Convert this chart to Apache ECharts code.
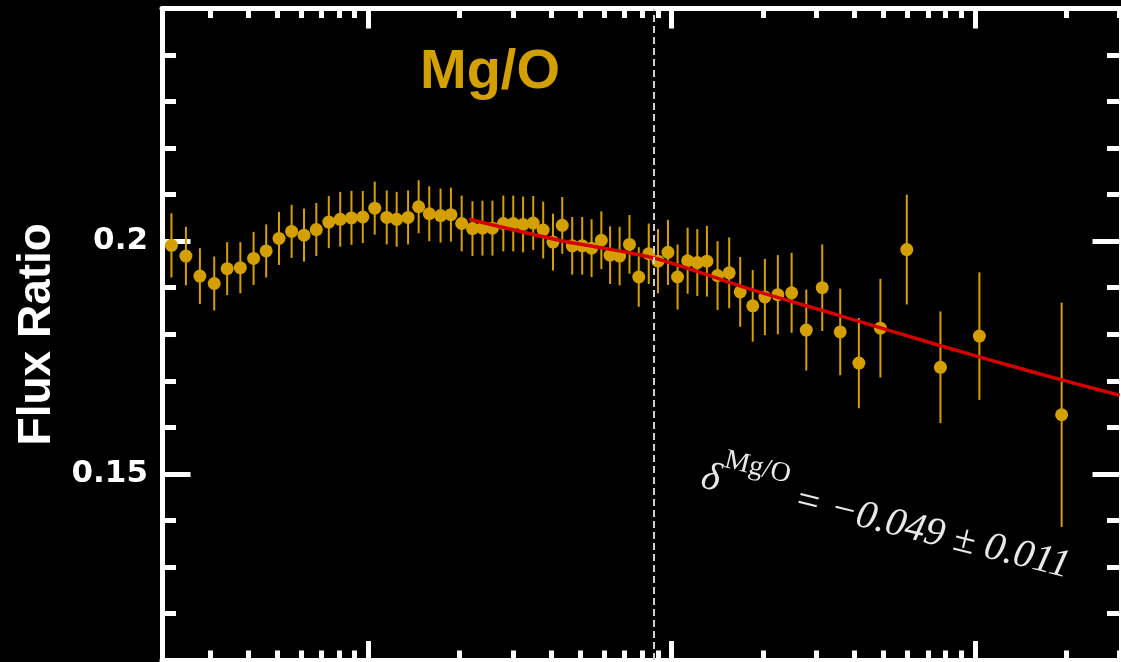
<!DOCTYPE html>
<html>
<head>
<meta charset="utf-8">
<style>
  html, body { margin: 0; padding: 0; background: #000; }
  #chart { width: 1121px; height: 662px; }
</style>
<script src="https://cdn.jsdelivr.net/npm/echarts@6/dist/echarts.min.js"></script>
</head>
<body>
<div id="chart"></div>
<script>
// Binned Mg/O flux ratio with 1-sigma uncertainties
const xVals = [0.224, 0.250, 0.278, 0.310, 0.342, 0.378, 0.418, 0.460, 0.507, 0.558,
  0.613, 0.673, 0.740, 0.807, 0.879, 0.958, 1.049, 1.149, 1.239, 1.351,
  1.464, 1.587, 1.729, 1.871, 2.030, 2.203, 2.377, 2.564, 2.785, 3.003,
  3.236, 3.495, 3.770, 4.061, 4.357, 4.699, 5.069, 5.444, 5.863, 6.266,
  6.736, 7.259, 7.789, 8.403, 9.015, 9.723, 10.46, 11.29, 12.15, 13.07,
  14.17, 15.48, 16.83, 18.51, 20.30, 22.40, 24.87, 27.80, 31.38, 35.97,
  41.44, 48.81, 59.63, 77.00, 103.5, 193.3];
const ratio = [0.1991, 0.1968, 0.1925, 0.1909, 0.1941, 0.1943, 0.1963, 0.1979, 0.2006, 0.2021,
  0.2013, 0.2025, 0.2041, 0.2047, 0.2050, 0.2052, 0.2071, 0.2051, 0.2047, 0.2051,
  0.2074, 0.2059, 0.2055, 0.2057, 0.2038, 0.2027, 0.2028, 0.2028, 0.2038, 0.2038,
  0.2036, 0.2039, 0.2024, 0.1998, 0.2034, 0.1990, 0.1990, 0.1985, 0.2002, 0.1970,
  0.1968, 0.1993, 0.1923, 0.1973, 0.1957, 0.1976, 0.1923, 0.1958, 0.1954, 0.1957,
  0.1926, 0.1932, 0.1891, 0.1861, 0.1880, 0.1885, 0.1889, 0.1809, 0.1900, 0.1805,
  0.1738, 0.1813, 0.1982, 0.1729, 0.1796, 0.1627];
const ratioErr = [0.0069, 0.0063, 0.0060, 0.0058, 0.0057, 0.0055, 0.0057, 0.0057, 0.0057, 0.0057,
  0.0057, 0.0057, 0.0056, 0.0059, 0.0058, 0.0056, 0.0057, 0.0058, 0.0059, 0.0058,
  0.0057, 0.0059, 0.0058, 0.0058, 0.0060, 0.0059, 0.0059, 0.0059, 0.0060, 0.0060,
  0.0060, 0.0058, 0.0061, 0.0061, 0.0061, 0.0062, 0.0062, 0.0062, 0.0062, 0.0062,
  0.0063, 0.0063, 0.0064, 0.0065, 0.0069, 0.0070, 0.0070, 0.0071, 0.0072, 0.0076,
  0.0074, 0.0076, 0.0075, 0.0077, 0.0082, 0.0085, 0.0086, 0.0087, 0.0093, 0.0093,
  0.0097, 0.0106, 0.0118, 0.0120, 0.0137, 0.0241];

// Power-law fit over the upper range
const fitX = [2.15, 4.25, 8.73, 17.9, 35.4, 75.6, 149, 300];
const fitY = [0.2047, 0.2002, 0.1964, 0.1898, 0.1841, 0.1777, 0.1722, 0.1669];

// Vertical reference cut
const cutX = 8.75;

// Axis ranges and ticks
const xRange = [0.2085, 303.4];
const yRange = [0.11, 0.25];
const xMajorTicks = [1, 10, 100];
const xMinorTicks = [0.3, 0.4, 0.5, 0.6, 0.7, 0.8, 0.9, 2, 3, 4, 5, 6, 7, 8, 9,
  20, 30, 40, 50, 60, 70, 80, 90, 200, 300];
const yMajorTicks = [0.15, 0.2, 0.25];
const yMinorTicks = [0.11, 0.12, 0.13, 0.14, 0.16, 0.17, 0.18, 0.19, 0.21, 0.22, 0.23, 0.24];
const yTickLabels = [0.15, 0.2];

const GOLD = '#d4a000';
const WHITE = '#ffffff';

const points = xVals.map((x, i) => [x, ratio[i], ratioErr[i]]);
const fitLine = fitX.map((x, i) => [x, fitY[i]]);

function xAxisDef(pos, ticks, len, showLine) {
  return {
    type: 'log', logBase: 10, position: pos, min: xRange[0], max: xRange[1],
    axisLine: { show: showLine, onZero: false, lineStyle: { color: WHITE, width: 5 } },
    axisTick: { show: true, inside: true, length: len, customValues: ticks,
      lineStyle: { color: WHITE, width: 5 } },
    axisLabel: { show: false },
    splitLine: { show: false }, minorTick: { show: false }
  };
}
function yAxisDef(pos, ticks, len, showLine, labels, name) {
  return {
    type: 'value', position: pos, min: yRange[0], max: yRange[1],
    name: name || '', nameLocation: 'middle', nameGap: 101,
    nameTextStyle: { color: WHITE, fontFamily: 'Liberation Sans', fontWeight: 'bold', fontSize: 46 },
    axisLine: { show: showLine, onZero: false, lineStyle: { color: WHITE, width: 5 } },
    axisTick: { show: true, inside: true, length: len, customValues: ticks,
      lineStyle: { color: WHITE, width: 5 } },
    axisLabel: labels ? {
      show: true, customValues: labels, margin: 14, color: WHITE,
      fontFamily: 'DejaVu Sans', fontWeight: 'bold', fontSize: 31,
      formatter: v => String(+v.toFixed(3))
    } : { show: false },
    splitLine: { show: false }
  };
}

const chart = echarts.init(document.getElementById('chart'), null, { renderer: 'canvas' });
chart.setOption({
  backgroundColor: '#000000',
  animation: false,
  grid: { left: 162, right: -2.5, top: 8.5, bottom: 2, containLabel: false },
  xAxis: [
    xAxisDef('bottom', xMajorTicks, 19, true),
    xAxisDef('bottom', xMinorTicks, 9.5, false),
    xAxisDef('top', xMajorTicks, 20, true),
    xAxisDef('top', xMinorTicks, 9.5, false)
  ],
  yAxis: [
    yAxisDef('left', yMajorTicks, 28.5, true, yTickLabels, 'Flux Ratio'),
    yAxisDef('left', yMinorTicks, 14, false),
    yAxisDef('right', yMajorTicks, 28.5, true),
    yAxisDef('right', yMinorTicks, 14, false)
  ],
  graphic: [
    {
      type: 'text', x: 490, y: 73, z: 100,
      style: {
        text: 'Mg/O', fill: GOLD,
        font: 'bold 56px "Liberation Sans", Arial, sans-serif',
        textAlign: 'center', align: 'center', textVerticalAlign: 'middle', verticalAlign: 'middle'
      }
    },
    {
      type: 'text', x: 697, y: 496, rotation: -0.242, z: 100,
      style: {
        text: '{d|δ}{s|Mg/O}{m| = −0.049 ± 0.011}',
        fill: '#e8e8e8',
        textAlign: 'left', align: 'left', textVerticalAlign: 'bottom', verticalAlign: 'bottom',
        rich: {
          d: { fontFamily: 'Liberation Serif', fontStyle: 'italic', fontSize: 40, lineHeight: 56, verticalAlign: 'bottom', fill: '#e8e8e8' },
          s: { fontFamily: 'Liberation Serif', fontSize: 28, lineHeight: 30, verticalAlign: 'top', fill: '#e8e8e8' },
          m: { fontFamily: 'Liberation Serif', fontStyle: 'italic', fontSize: 40, lineHeight: 56, verticalAlign: 'bottom', fill: '#e8e8e8' }
        }
      }
    }
  ],
  series: [
    {
      name: 'err', type: 'custom', xAxisIndex: 0, yAxisIndex: 0, z: 2,
      data: points,
      renderItem: function (params, api) {
        const x = api.value(0), y = api.value(1), e = api.value(2);
        const p1 = api.coord([x, y - e]);
        const p2 = api.coord([x, y + e]);
        return {
          type: 'line',
          shape: { x1: p1[0], y1: p1[1], x2: p2[0], y2: p2[1] },
          style: { stroke: GOLD, lineWidth: 2 }
        };
      },
      silent: true
    },
    {
      name: 'ratio', type: 'scatter', xAxisIndex: 0, yAxisIndex: 0, z: 3,
      data: points.map(p => [p[0], p[1]]),
      symbol: 'circle', symbolSize: 13,
      itemStyle: { color: GOLD, opacity: 1 },
      markLine: {
        silent: true, symbol: ['none', 'none'], label: { show: false },
        lineStyle: { color: '#cfcfcf', width: 2, type: [7, 4] },
        data: [{ xAxis: cutX }]
      }
    },
    {
      name: 'fit', type: 'line', xAxisIndex: 0, yAxisIndex: 0, z: 4,
      data: fitLine, smooth: 0.3, showSymbol: false, symbol: 'none',
      lineStyle: { color: '#d40000', width: 3.5 }
    }
  ]
});
</script>
</body>
</html>
